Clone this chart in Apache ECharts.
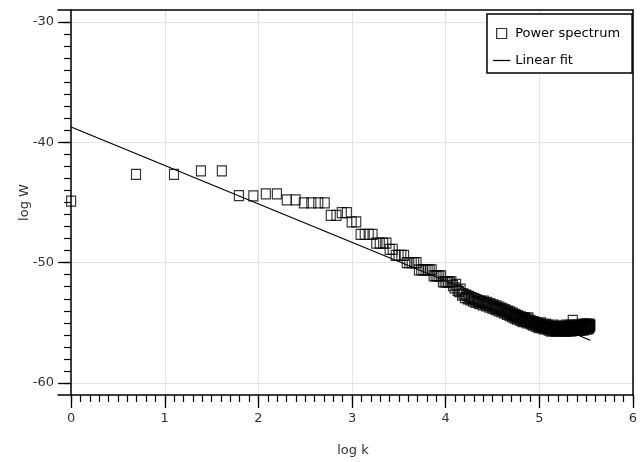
<!DOCTYPE html>
<html>
<head>
<meta charset="utf-8">
<script src="https://cdn.jsdelivr.net/npm/echarts@6/dist/echarts.min.js"></script>
<style>html,body{margin:0;padding:0;background:#fff}#c{width:642px;height:462px}</style>
</head>
<body>
<div id="c"></div>
<script>
// log W for k = 1..256 (x = log k)
var powerW = [
-44.88,-42.66,-42.66,-42.38,-42.38,-44.43,-44.45,-44.29,-44.29,-44.78,
-44.78,-45.03,-45.03,-45.03,-45.03,-46.07,-46.07,-45.84,-45.84,-46.62,
-46.62,-47.64,-47.64,-47.64,-47.64,-48.37,-48.37,-48.37,-48.37,-48.90,
-48.90,-49.40,-49.40,-49.40,-49.40,-50.00,-50.00,-50.00,-50.00,-50.00,
-50.60,-50.60,-50.60,-50.60,-50.60,-50.60,-50.60,-51.10,-51.10,-51.10,
-51.10,-51.10,-51.60,-51.60,-51.60,-51.60,-51.60,-51.60,-51.90,-52.10,
-51.80,-52.30,-52.40,-52.20,-52.70,-52.60,-52.90,-52.70,-53.00,-52.80,
-53.10,-52.90,-53.20,-53.00,-53.30,-53.10,-53.20,-53.40,-53.20,-53.30,
-53.50,-53.20,-53.40,-53.60,-53.30,-53.50,-53.70,-53.40,-53.60,-53.80,
-53.50,-53.70,-53.90,-53.60,-53.80,-54.00,-53.70,-53.90,-54.10,-53.80,
-54.00,-54.20,-53.90,-54.10,-54.30,-54.00,-54.20,-54.40,-54.10,-54.30,
-54.50,-54.20,-54.40,-54.60,-54.30,-54.50,-54.70,-54.40,-54.60,-54.50,
-54.80,-54.50,-54.70,-54.90,-54.60,-54.80,-54.60,-54.90,-54.70,-55.00,
-54.80,-54.60,-54.90,-55.00,-54.80,-55.10,-54.90,-55.00,-55.20,-54.90,
-55.10,-55.00,-55.30,-55.10,-55.00,-55.20,-55.40,-55.10,-55.30,-55.20,
-55.00,-55.40,-55.20,-55.30,-55.50,-55.20,-55.40,-55.30,-55.10,-55.40,
-55.50,-55.20,-55.40,-55.60,-55.30,-55.50,-55.40,-55.70,-55.30,-55.50,
-55.60,-55.40,-55.20,-55.50,-55.70,-55.40,-55.60,-55.30,-55.50,-55.40,
-55.70,-55.50,-55.30,-55.60,-55.40,-55.50,-55.70,-55.30,-55.60,-55.40,
-55.50,-55.60,-55.30,-55.50,-55.70,-55.40,-55.20,-55.60,-55.50,-55.30,
-55.70,-55.40,-55.60,-55.30,-55.50,-55.20,-55.60,-55.40,-55.70,-55.30,
-55.50,-54.80,-55.40,-55.60,-55.30,-55.50,-55.20,-55.60,-55.40,-55.30,
-55.60,-55.40,-55.20,-55.50,-55.30,-55.60,-55.40,-55.20,-55.50,-55.30,
-55.60,-55.20,-55.40,-55.50,-55.10,-55.40,-55.30,-55.60,-55.20,-55.40,
-55.30,-55.50,-55.10,-55.40,-55.20,-55.50,-55.30,-55.10,-55.40,-55.30,
-55.50,-55.20,-55.40,-55.10,-55.30,-55.20
];
var fitX = [0, 5.545];
var fitY = [-38.73, -56.45];
var xMajor = [0, 1, 2, 3, 4, 5, 6];
var yMajor = [-60, -50, -40, -30];
var seriesNames = ['Power spectrum', 'Linear fit'];

var xMinor = [];
for (var i = 0; i <= 60; i++) xMinor.push(i / 10);
var yMinor = [];
for (var j = -60; j <= -30; j++) yMinor.push(j);

var scatterData = powerW.map(function (w, idx) { return [Math.log(idx + 1), w]; });
var lineData = fitX.map(function (x, idx) { return [x, fitY[idx]]; });

var FONT = 'DejaVu Sans';
var AX = '#000';
var chart = echarts.init(document.getElementById('c'), null, { renderer: 'canvas' });
chart.setOption({
  animation: false,
  textStyle: { fontFamily: FONT },
  grid: { left: 58, right: 9, top: 10, bottom: 67, containLabel: false, outerBoundsMode: 'none' },
  legend: {
    data: [
      { name: seriesNames[0], icon: 'path://M0,0H10V10H0Z' },
      { name: seriesNames[1], icon: 'path://M0,0H17V1H0Z', itemStyle: { color: '#000', borderWidth: 0.3, borderColor: '#000' } }
    ],
    orient: 'vertical',
    left: 487, top: 14,
    itemWidth: 17, itemHeight: 10, itemGap: 14,
    symbolKeepAspect: true,
    padding: [13, 12, 6, 6],
    borderColor: '#000', borderWidth: 1.5, backgroundColor: '#fff',
    textStyle: { fontFamily: FONT, fontSize: 13, color: '#000' },
    itemStyle: { borderWidth: 1.2 }
  },
  xAxis: [
    {
      type: 'value', min: -0.14, max: 6, position: 'bottom',
      axisLine: { show: true, onZero: false, lineStyle: { color: AX, width: 1.5 } },
      axisTick: { show: true, length: 13, customValues: xMajor, lineStyle: { color: AX, width: 1.3 } },
      axisLabel: { customValues: xMajor, margin: 17, color: '#333', fontSize: 13, fontFamily: FONT },
      splitLine: { show: true, lineStyle: { color: '#e4e4e4', width: 1 } },
      name: 'log k', nameLocation: 'middle', nameGap: 49,
      nameTextStyle: { fontSize: 13, color: '#333', fontFamily: FONT, padding: [0, 0, 0, 15] }
    },
    {
      type: 'value', min: -0.14, max: 6, position: 'top',
      axisLine: { show: true, onZero: false, lineStyle: { color: AX, width: 1.5 } },
      axisTick: { show: false }, axisLabel: { show: false }, splitLine: { show: false }
    },
    {
      type: 'value', min: -0.14, max: 6, position: 'bottom',
      axisLine: { show: false, onZero: false },
      axisTick: { show: true, length: 7, customValues: xMinor, lineStyle: { color: AX, width: 1.2 } },
      axisLabel: { show: false }, splitLine: { show: false }
    }
  ],
  yAxis: [
    {
      type: 'value', min: -61, max: -29, position: 'left',
      axisLine: { show: true, onZero: true, onZeroAxisIndex: 0, lineStyle: { color: AX, width: 1.5 } },
      axisTick: { show: true, length: 13, customValues: yMajor, lineStyle: { color: AX, width: 1.3 } },
      axisLabel: { customValues: yMajor, margin: 4, color: '#333', fontSize: 13, fontFamily: FONT },
      splitLine: { show: true, lineStyle: { color: '#e4e4e4', width: 1 } },
      name: 'log W', nameLocation: 'middle', nameGap: 27, nameMoveOverlap: false,
      nameTextStyle: { fontSize: 13, color: '#333', fontFamily: FONT }
    },
    {
      type: 'value', min: -61, max: -29, position: 'left',
      axisLine: { show: false, onZero: true, onZeroAxisIndex: 0 },
      axisTick: { show: true, length: 7, customValues: yMinor, lineStyle: { color: AX, width: 1.2 } },
      axisLabel: { show: false }, splitLine: { show: false }
    },
    {
      type: 'value', min: -61, max: -29, position: 'right',
      axisLine: { show: true, onZero: false, lineStyle: { color: AX, width: 1.5 } },
      axisTick: { show: false }, axisLabel: { show: false }, splitLine: { show: false }
    }
  ],
  series: [
    {
      name: seriesNames[0], type: 'scatter', xAxisIndex: 0, yAxisIndex: 0,
      symbol: 'rect', symbolSize: [9, 10],
      itemStyle: { color: 'transparent', borderColor: '#000', borderWidth: 1.2 },
      data: scatterData, z: 2
    },
    {
      name: seriesNames[1], type: 'line', xAxisIndex: 0, yAxisIndex: 0,
      showSymbol: false, symbol: 'none',
      lineStyle: { color: '#000', width: 1.2 },
      itemStyle: { color: '#000' },
      data: lineData, z: 3
    }
  ]
});
</script>
</body>
</html>
